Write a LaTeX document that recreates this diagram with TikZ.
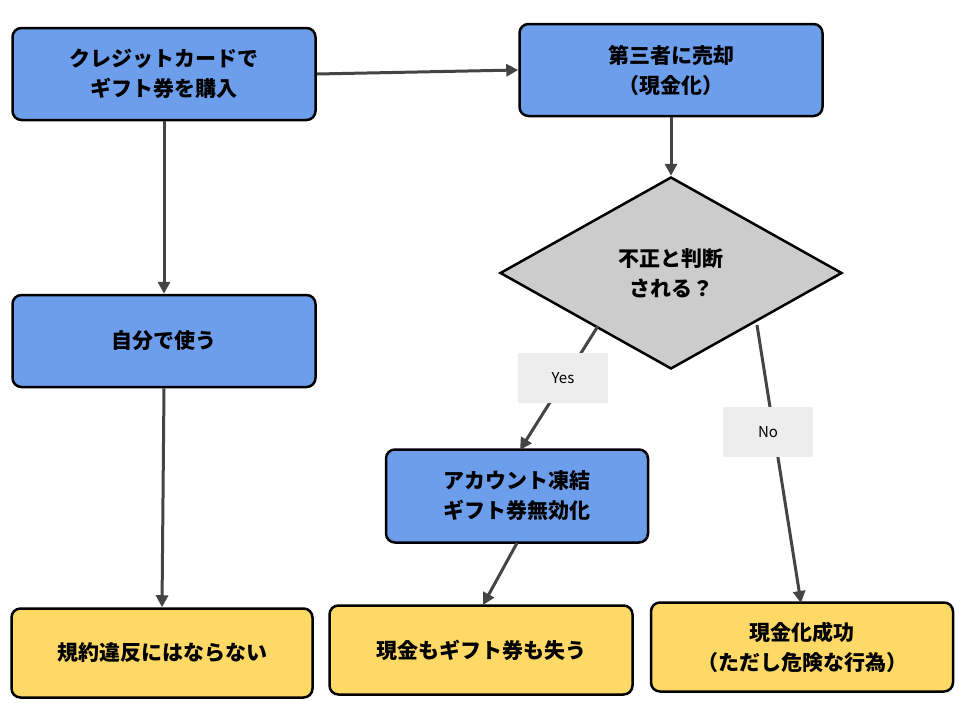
\documentclass[tikz,border=0pt]{standalone}
\usepackage{fontspec}
\setmainfont{Noto Sans CJK JP}
\usetikzlibrary{shapes.geometric,arrows.meta}
\definecolor{bl}{HTML}{6D9EEB}
\definecolor{yl}{HTML}{FFD966}
\definecolor{gr}{HTML}{CCCCCC}
\definecolor{ar}{HTML}{444444}
\begin{document}
\begin{tikzpicture}[x=1pt,y=-1pt,
 box/.style={draw=black,line width=2.5pt,rounded corners=9pt,minimum width=#1,align=center,font=\fontsize{21}{30}\selectfont\bfseries},
 blue/.style={box=303pt,fill=bl,minimum height=92pt},
 yel/.style={box=301pt,fill=yl,minimum height=89pt},
 arr/.style={draw=ar,line width=3pt,-{Triangle[length=12pt,width=12pt]}},
 lab/.style={fill=black!7,font=\fontsize{15}{18}\selectfont,minimum width=46pt,minimum height=46pt,inner sep=2pt}]
\useasboundingbox (0,0) rectangle (960,720);
\fill[white] (0,0) rectangle (960,720);
\node[blue] (a) at (164,74) {クレジットカードで\\ギフト券を購入};
\node[blue] (b) at (671,70) {第三者に売却\\（現金化）};
\node[diamond,draw=black,line width=2.5pt,fill=gr,minimum width=342pt,minimum height=192pt,inner sep=0pt,align=center,font=\fontsize{21}{30}\selectfont\bfseries] (q) at (671,273) {不正と判断\\される？};
\node[blue] (c) at (164,341) {自分で使う};
\node[box=262pt,fill=bl,minimum height=93pt] (d) at (517,496) {アカウント凍結\\ギフト券無効化};
\node[yel] (e) at (162,653) {規約違反にはならない};
\node[yel,minimum width=303pt] (f) at (481,650) {現金もギフト券も失う};
\node[yel,minimum width=302pt] (g) at (802,647) {現金化成功\\（ただし危険な行為）};
\coordinate (q1) at (598,326);
\coordinate (q2) at (757,325);
\coordinate (d1) at (520,450);
\coordinate (g1) at (801,603);
\coordinate (d2) at (517,543);
\coordinate (f1) at (483,605);
\draw[arr] (a.east) -- (b.west);
\draw[arr] (a.south) -- (c.north);
\draw[arr] (c.south) -- (e.north);
\draw[arr] (b.south) -- (q.north);
\draw[arr] (q1) -- (d1);
\draw[arr] (q2) -- (g1);
\draw[arr] (d2) -- (f1);
\node[lab,minimum width=90pt,minimum height=50pt] (y) at (563,378) {Yes};
\node[lab,minimum width=90pt,minimum height=50pt] (n) at (768,432) {No};
\end{tikzpicture}
\end{document}
